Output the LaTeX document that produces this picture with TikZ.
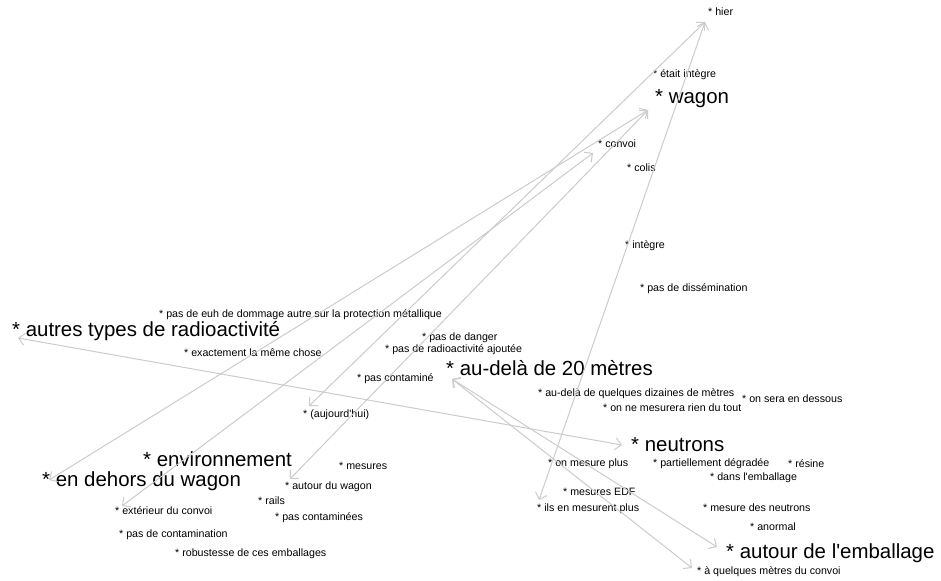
\documentclass[tikz,border=0pt]{standalone}
\usepackage{fontspec}
\setmainfont{Liberation Sans}
\usetikzlibrary{arrows.meta}
\definecolor{linkgray}{RGB}{204,204,204}

\begin{document}
\begin{tikzpicture}[
          x=1bp, y=-1bp,
          term/.style={anchor=base west, inner sep=0pt, font=\fontsize{10.7}{12}\selectfont},
          theme/.style={anchor=base west, inner sep=0pt, font=\fontsize{20.5}{22}\selectfont},
          link/.style={{Straight Barb[length=6bp,width=12bp]}-{Straight Barb[length=6bp,width=12bp]},
                       line width=1bp, draw=linkgray}
        ]
        \fill[white] (0,0) rectangle (941,581);
        \useasboundingbox (0,0) rectangle (941,581);
        % main themes
        \node[theme] (wagon)    at (655,104) {* wagon};
        \node[theme] (autres)   at (12,336)  {* autres types de radioactivité};
        \node[theme] (aude)     at (446,375) {* au-delà de 20 mètres};
        \node[theme] (neutrons) at (631,451) {* neutrons};
        \node[theme] (environ)  at (143,466) {* environnement};
        \node[theme] (dehors)   at (42,486)  {* en dehors du wagon};
        \node[theme] (autemb)   at (726,558) {* autour de l\textquotesingle emballage};
        % terms
        \node[term] (hier)       at (708,16)  {* hier};
        \node[term] (etait)      at (653,78)  {* était intègre};
        \node[term] (convoi)     at (598,148) {* convoi};
        \node[term] (colis)      at (627,172) {* colis};
        \node[term] (integre)    at (625,249) {* intègre};
        \node[term] (dissem)     at (640,291) {* pas de dissémination};
        \node[term] (dommage)    at (159,317) {* pas de euh de dommage autre sur la protection métallique};
        \node[term] (exact)      at (184,356) {* exactement la même chose};
        \node[term] (danger)     at (422,340) {* pas de danger};
        \node[term] (ajoutee)    at (385,352) {* pas de radioactivité ajoutée};
        \node[term] (pascont)    at (357,381) {* pas contaminé};
        \node[term] (auj)        at (303,417) {* (aujourd\textquotesingle hui)};
        \node[term] (dizaines)   at (538,396) {* au-delà de quelques dizaines de mètres};
        \node[term] (rien)       at (603,411) {* on ne mesurera rien du tout};
        \node[term] (dessous)    at (742,402) {* on sera en dessous};
        \node[term] (mesplus)    at (548,466) {* on mesure plus};
        \node[term] (degradee)   at (653,466) {* partiellement dégradée};
        \node[term] (resine)     at (788,467) {* résine};
        \node[term] (dansemb)    at (710,480) {* dans l\textquotesingle emballage};
        \node[term] (edf)        at (563,495) {* mesures EDF};
        \node[term] (ilsmes)     at (537,511) {* ils en mesurent plus};
        \node[term] (mesneut)    at (703,511) {* mesure des neutrons};
        \node[term] (anormal)    at (750,530) {* anormal};
        \node[term] (quelques)   at (697,574) {* à quelques mètres du convoi};
        \node[term] (mesures)    at (339,469) {* mesures};
        \node[term] (autwag)     at (285,489) {* autour du wagon};
        \node[term] (rails)      at (258,504) {* rails};
        \node[term] (pascontees) at (275,520) {* pas contaminées};
        \node[term] (exterieur)  at (115,514) {* extérieur du convoi};
        \node[term] (pascontam)  at (119,537) {* pas de contamination};
        \node[term] (robust)     at (175,556) {* robustesse de ces emballages};
        % links
        \draw[link] ([shift={(-3,6)}]hier.base west) -- ([shift={(2,-11)}]ilsmes.base west);
        \draw[link] ([shift={(-3,6)}]hier.base west) -- ([shift={(6,-11)}]auj.base west);
        \draw[link] ([shift={(-7,6)}]wagon.base west) -- ([shift={(7,-6)}]dehors.base west);
        \draw[link] ([shift={(-7,6)}]wagon.base west) -- ([shift={(5,-10)}]autwag.base west);
        \draw[link] ([shift={(-5,5)}]convoi.base west) -- ([shift={(7,-8)}]exterieur.base west);
        \draw[link] ([shift={(6,2)}]autres.base west) -- ([shift={(-9,-6)}]neutrons.base west);
        \draw[link] ([shift={(6,4)}]aude.base west) -- ([shift={(-9,-11)}]autemb.base west);
        \draw[link] ([shift={(6,4)}]aude.base west) -- ([shift={(-5,-6)}]quelques.base west);
      \end{tikzpicture}
\end{document}
